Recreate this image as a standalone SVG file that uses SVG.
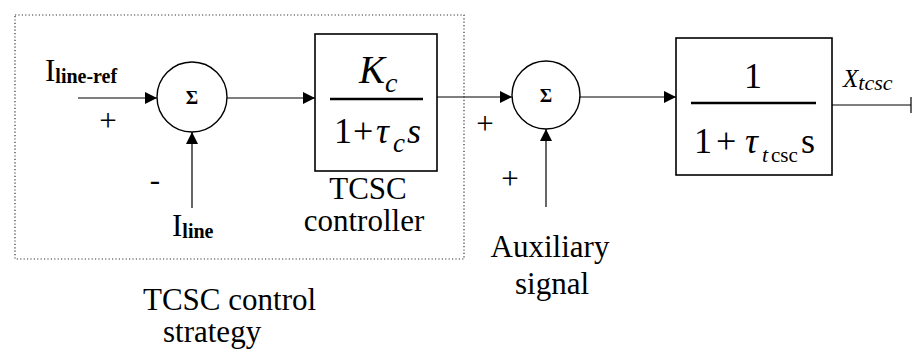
<svg xmlns="http://www.w3.org/2000/svg" width="913" height="353" viewBox="0 0 913 353" font-family="'Liberation Serif', 'DejaVu Serif', serif">
<style>
text{font-family:'Liberation Serif','DejaVu Serif',serif;fill:#000}
.lbl{font-size:31px}
.sub{font-size:20px;font-weight:bold}
.sig{font-size:19px;font-weight:bold}
.frac{stroke:#000;stroke-width:2.5}
.blk{fill:none;stroke:#000;stroke-width:1.6}
.sum{fill:none;stroke:#000;stroke-width:1.4}
.wire{fill:none;stroke:#000;stroke-width:1.2}
.it{font-style:italic}
.eq{font-size:36px}
</style>
<defs>
<marker id="ah" markerUnits="userSpaceOnUse" markerWidth="14" markerHeight="14" refX="12" refY="6" orient="auto">
<path d="M0,0 L12,6 L0,12 Z" fill="#000"/>
</marker>
</defs>
<rect id="group" x="15" y="15" width="449" height="244" fill="none" stroke="#333" stroke-width="1.2" stroke-dasharray="1.2,2.2"/>
<g id="connectors">
<line class="wire" x1="78" y1="98" x2="157" y2="98" marker-end="url(#ah)"/>
<line class="wire" x1="192" y1="208" x2="192" y2="132" marker-end="url(#ah)"/>
<line class="wire" x1="227" y1="98" x2="315" y2="98" marker-end="url(#ah)"/>
<line class="wire" x1="437" y1="97" x2="512" y2="97" marker-end="url(#ah)"/>
<line class="wire" x1="546" y1="207" x2="546" y2="129" marker-end="url(#ah)"/>
<line class="wire" x1="580" y1="97" x2="676" y2="97" marker-end="url(#ah)"/>
<line class="wire" x1="832" y1="105" x2="911" y2="105"/>
<line class="wire" x1="911" y1="97" x2="911" y2="113" stroke-width="1.6"/>
</g>
<g id="input-ref">
<text class="lbl" x="45" y="81">I<tspan class="sub" dy="2">line-ref</tspan></text>
<text class="lbl" x="108" y="131" text-anchor="middle">+</text>
</g>
<g id="input-line">
<text class="lbl" x="172" y="236">I<tspan class="sub" dy="2">line</tspan></text>
<text class="lbl" x="155" y="190" text-anchor="middle">-</text>
</g>
<g id="sum1">
<circle class="sum" cx="192" cy="97" r="35"/>
<text class="sig" x="192" y="104" text-anchor="middle">Σ</text>
</g>
<g id="controller">
<rect class="blk" x="315" y="34" width="122" height="137"/>
<text x="359" y="83" font-size="39" class="it">K<tspan font-size="28" dy="9">c</tspan></text>
<line class="frac" x1="330" y1="99" x2="423" y2="99"/>
<text class="eq" y="143"><tspan x="334">1</tspan><tspan x="353">+</tspan><tspan class="it" x="376">τ</tspan><tspan class="it" font-size="27" x="393" dy="9">c</tspan><tspan class="it" x="407" dy="-9">s</tspan></text>
<text class="lbl" x="368" y="199" text-anchor="middle">TCSC</text>
<text class="lbl" x="364" y="231" text-anchor="middle">controller</text>
</g>
<g id="sum2">
<circle class="sum" cx="546" cy="95" r="34"/>
<text class="sig" x="546" y="102" text-anchor="middle">Σ</text>
<text class="lbl" x="485" y="134" text-anchor="middle">+</text>
<text class="lbl" x="510" y="189" text-anchor="middle">+</text>
</g>
<g id="auxiliary">
<text class="lbl" x="550" y="257" text-anchor="middle">Auxiliary</text>
<text class="lbl" x="552" y="294" text-anchor="middle">signal</text>
</g>
<g id="plant">
<rect class="blk" x="676" y="38" width="156" height="137"/>
<text class="eq" x="753" y="88" text-anchor="middle">1</text>
<line class="frac" x1="691" y1="103" x2="816" y2="103"/>
<text class="eq" y="153"><tspan x="694">1</tspan><tspan x="716">+</tspan><tspan class="it" x="745">τ</tspan><tspan class="it" font-size="22" x="762" dy="9">t</tspan><tspan font-size="21" x="771">csc</tspan><tspan x="801" dy="-9">s</tspan></text>
</g>
<g id="output">
<text x="843" y="87" font-size="25" class="it">X<tspan font-size="22" dy="3">tcsc</tspan></text>
</g>
<g id="strategy-label">
<text class="lbl" x="143" y="310">TCSC control</text>
<text class="lbl" x="163" y="342">strategy</text>
</g>
</svg>
